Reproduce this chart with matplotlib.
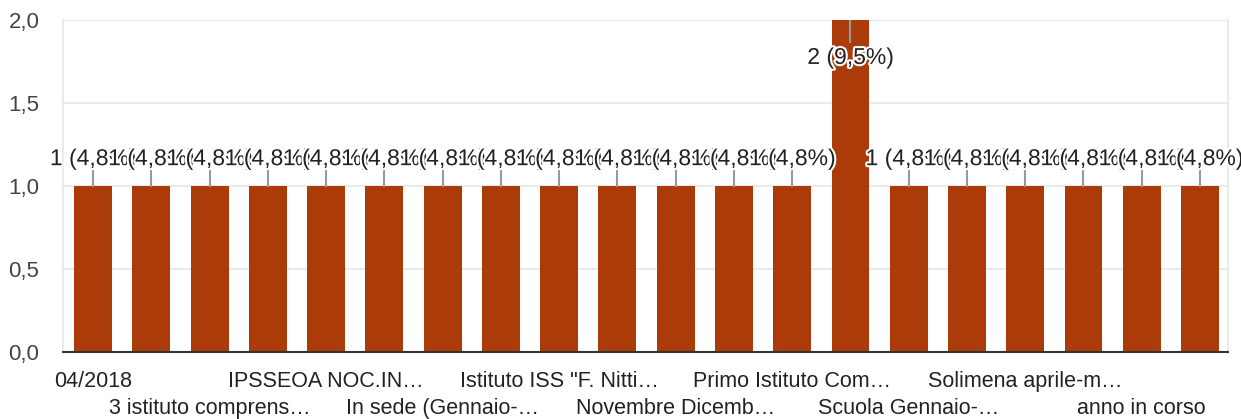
import matplotlib
matplotlib.use("Agg")
import matplotlib.pyplot as plt
import matplotlib.patheffects as pe
from matplotlib.ticker import FuncFormatter

# === dati ===
# solo alcune etichette sono visibili nell'originale, le altre restano vuote
categories = [
    "04/2018", "", "3 istituto comprens…", "", "IPSSEOA NOC.IN…", "",
    "In sede (Gennaio-…", "", 'Istituto ISS "F. Nitti…', "", "Novembre Dicemb…", "",
    "Primo Istituto Com…", "", "Scuola Gennaio-…", "", "Solimena aprile-m…", "",
    "anno in corso", "",
]
values = [1, 1, 1, 1, 1, 1, 1, 1, 1, 1, 1, 1, 1, 2, 1, 1, 1, 1, 1, 1]
y_ticks = [0, 0.5, 1.0, 1.5, 2.0]

bar_color = "#ab3b08"
total = sum(values)
x = list(range(len(values)))

fig = plt.figure(figsize=(12.41, 4.19), dpi=100)
ax = fig.add_axes([0.0508, 0.160, 0.9387, 0.792])

ax.bar(x, values, width=0.65, color=bar_color, zorder=2)

ymax = 2.0
ax.set_ylim(0, ymax)
ax.set_xlim(-0.515, len(values) - 0.52)

# etichette sopra le barre (con linea guida)
for i, v in enumerate(values):
    pct = v / total * 100
    label = f"{v} ({pct:.1f}%)".replace(".", ",")
    if v + 0.25 > ymax:
        ax.plot([i, i], [v, v - 0.13], color="#999999", lw=1.5, zorder=3)
        ty = v - 0.225
    else:
        ax.plot([i, i], [v, v + 0.13], color="#999999", lw=1.5, zorder=3)
        ty = v + 0.165
    ax.text(i, ty, label, ha="center", va="center", fontsize=16.5,
            family="Liberation Sans", color="#222222", zorder=4,
            path_effects=[pe.withStroke(linewidth=3, foreground="white")])

# assi
ax.set_yticks(y_ticks)
ax.yaxis.set_major_formatter(FuncFormatter(lambda v, p: f"{v:.1f}".replace(".", ",")))
ax.grid(axis="y", color="#e6e6e6", lw=1.2, zorder=0)
ax.tick_params(axis="y", length=0, pad=17, labelsize=16, labelcolor="#444444")
for t in ax.get_yticklabels():
    t.set_family("Liberation Sans")

tick_labels = []
for i, c in enumerate(categories):
    if i % 4 == 2:
        tick_labels.append("\n" + c)
    else:
        tick_labels.append(c)
ax.set_xticks(x)
ax.set_xticklabels(tick_labels, fontsize=15.5, color="#222222", family="Liberation Sans",
                   linespacing=1.35)
ax.tick_params(axis="x", length=0, pad=14)

for s in ["left", "right"]:
    ax.spines[s].set_color("#e6e6e6")
    ax.spines[s].set_linewidth(1.2)
ax.spines["top"].set_visible(False)
ax.spines["bottom"].set_color("#333333")
ax.spines["bottom"].set_linewidth(1.5)
ax.spines["bottom"].set_zorder(5)

fig.savefig("out.png", dpi=100)
